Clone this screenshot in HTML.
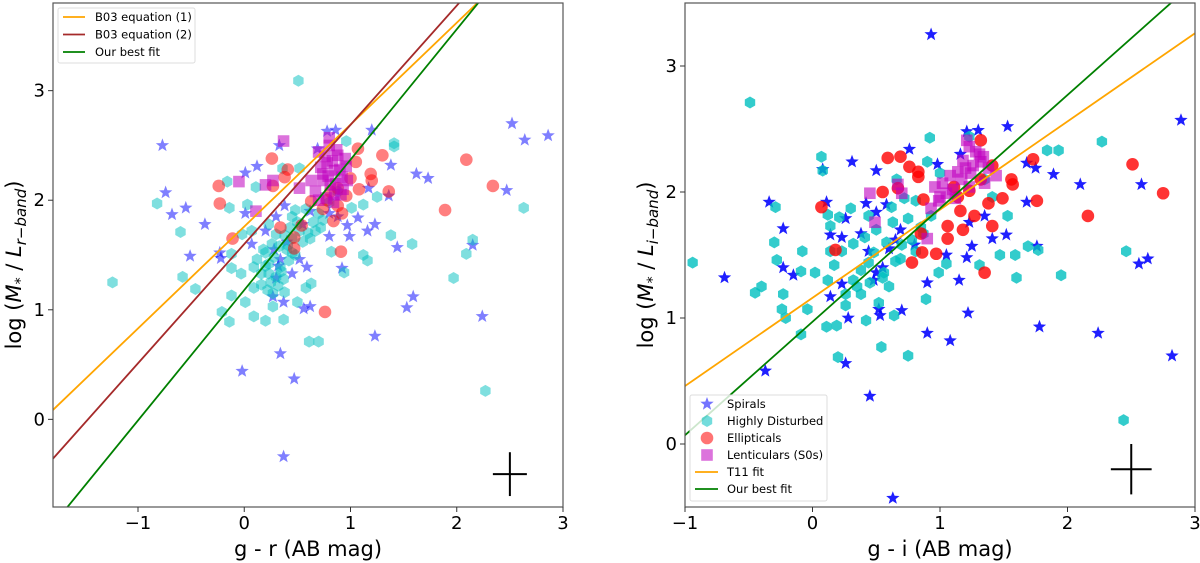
<!DOCTYPE html>
<html><head><meta charset="utf-8">
<style>
html,body{margin:0;padding:0;background:#fff;}
svg{display:block;font-family:"DejaVu Sans","Liberation Sans",sans-serif;}
</style></head>
<body>
<svg id="fig" width="1200" height="563" viewBox="0 0 1200 563" xmlns="http://www.w3.org/2000/svg"></svg>
<script>
// ---------- LEFT PANEL DATA (g - r vs log M/L_r) ----------
const L_spirals_x=[-0.77,-0.74,-0.68,-0.55,-0.37,-0.51,-0.23,-0.22,-0.02,0.34,0.47,0.37,0.33,0.01,0.12,0.78,0.86,0.69,1.20,1.38,1.62,1.73,1.17,1.36,1.07,1.23,1.16,0.97,0.99,0.80,1.44,0.92,0.59,0.52,0.34,0.27,0.37,0.56,0.62,1.59,1.53,1.23,2.24,2.15,2.47,2.52,2.64,2.86,0.01,0.20,0.38,0.07,0.30,0.80,0.88,0.30,0.45,0.32,0.40,0.28,0.55,0.62];
const L_spirals_y=[2.50,2.07,1.87,1.93,1.78,1.49,1.52,1.47,0.44,0.60,0.37,-0.34,2.50,2.25,2.31,2.63,2.64,2.47,2.64,2.32,2.24,2.20,2.11,2.04,1.84,1.78,1.72,1.77,1.67,1.67,1.57,1.38,1.39,1.46,1.46,1.12,1.07,1.01,1.03,1.12,1.02,0.76,0.94,1.59,2.09,2.70,2.55,2.59,1.88,1.72,1.95,1.60,1.85,1.88,1.85,1.29,1.33,1.40,1.62,1.55,1.78,1.90];
const L_dist_x=[0.51,0.96,1.41,1.41,-0.82,-0.60,-0.58,-0.46,-1.24,-0.14,-0.16,0.11,0.03,-0.12,-0.12,-0.03,-0.12,-0.21,-0.14,0.01,0.09,0.20,0.37,0.50,0.38,0.23,0.16,0.09,0.27,0.61,0.70,0.58,0.63,0.82,0.94,1.12,1.16,1.38,1.58,1.97,2.09,2.15,2.27,2.63,1.12,1.01,1.25,0.36,0.52,0.23,0.30,0.45,0.52,0.41,0.48,0.20,0.12,0.23,0.34,0.45,0.67,0.74,0.80,0.88,0.07,-0.02,0.16,0.09,0.25,0.30,0.35,0.40,0.45,0.55,0.60,0.65,0.20,0.28,0.33,0.38,0.43,0.50,0.58,0.70,0.22,0.27,0.32,0.37,0.18,0.26,0.42,0.48,0.62,0.72];
const L_dist_y=[3.09,2.54,2.52,2.49,1.97,1.71,1.30,1.19,1.25,1.93,2.17,2.12,1.96,1.38,1.51,1.33,1.13,0.98,0.89,1.07,0.94,0.90,0.91,1.07,1.16,1.33,1.23,1.20,1.03,0.71,0.71,1.20,1.24,1.53,1.34,1.50,1.45,1.68,1.60,1.29,1.51,1.64,0.26,1.93,1.96,1.93,2.03,2.29,2.29,1.78,1.69,1.85,1.72,1.59,1.91,1.52,1.46,1.42,1.39,1.52,1.72,1.82,1.98,2.08,1.72,1.69,1.33,1.39,1.25,1.30,1.35,1.55,1.65,1.62,1.70,1.80,1.40,1.48,1.58,1.68,1.75,1.80,1.92,1.88,1.18,1.15,1.22,1.28,1.55,1.60,1.45,1.50,1.65,1.75];
const L_ell_x=[-0.24,-0.23,-0.11,0.26,0.41,0.38,0.27,0.34,0.47,0.47,0.54,0.76,0.91,0.84,0.74,1.07,1.05,1.19,1.20,1.08,1.30,1.36,1.89,2.09,2.34,0.88,0.96,0.63,0.88,0.81,0.92,1.00,0.78];
const L_ell_y=[2.13,1.97,1.65,2.38,2.28,2.21,2.13,1.75,1.66,1.56,1.77,0.98,1.53,1.81,1.92,2.47,2.35,2.24,2.18,2.10,2.41,2.08,1.91,2.37,2.13,1.95,2.04,1.99,2.11,2.08,1.88,2.20,2.00];
const L_len_x=[0.37,-0.05,0.11,0.80,0.70,0.78,0.85,0.92,0.74,0.81,0.67,0.96,0.88,0.74,0.63,0.85,0.97,0.27,0.20,0.52,0.76,0.83,0.90,0.72,0.79,0.86,0.93,0.77,0.84,0.91,0.80,0.87,0.70,0.95];
const L_len_y=[2.54,2.17,1.90,2.57,2.44,2.34,2.27,2.21,2.18,2.14,2.08,2.31,2.41,2.24,2.18,2.05,2.18,2.18,2.14,2.11,2.40,2.36,2.28,2.30,2.22,2.15,2.10,2.02,1.98,2.05,2.50,2.46,2.00,2.38];
const L_xticks=[-1,0,1,2,3];
const L_yticks=[0,1,2,3];
const L_fits_slope=[0.93,1.088,1.19];
const L_fits_icpt=[1.76,1.60,1.18];
const L_fit_labels=["B03 equation (1)","B03 equation (2)","Our best fit"];

// ---------- RIGHT PANEL DATA (g - i vs log M/L_i) ----------
const R_spirals_x=[0.93,1.53,2.89,0.76,0.31,0.08,0.50,0.98,-0.34,0.11,-0.23,0.26,0.42,0.50,0.58,0.14,0.23,-0.69,-0.23,-0.15,0.14,0.23,0.28,0.26,-0.37,0.45,0.63,0.52,0.53,0.70,0.90,1.08,1.22,1.15,1.21,1.25,1.52,1.41,1.76,1.68,1.75,1.68,1.89,2.10,2.58,1.78,2.24,2.56,2.63,2.82,1.21,1.30,1.16,0.90,0.50,0.44,0.38,0.69,1.05,1.35,1.23,0.60,0.55,0.48,0.65,0.80];
const R_spirals_y=[3.25,2.52,2.57,2.34,2.24,2.18,2.17,2.22,1.92,1.92,1.71,1.79,1.91,1.84,1.90,1.66,1.64,1.32,1.40,1.34,1.17,1.27,1.00,0.64,0.58,0.38,-0.43,1.07,1.02,1.06,0.88,0.82,1.04,1.30,1.48,1.57,1.66,1.63,1.57,1.92,2.19,2.23,2.14,2.06,2.06,0.93,0.88,1.43,1.47,0.70,2.48,2.49,2.30,1.28,1.36,1.53,1.67,1.70,1.50,1.81,1.76,1.55,1.40,1.30,1.62,1.58];
const R_dist_x=[-0.49,-0.94,-0.29,-0.30,-0.28,-0.23,-0.24,-0.21,-0.45,-0.40,-0.08,-0.09,-0.09,-0.04,0.07,0.08,0.12,0.21,0.30,0.14,0.14,0.17,0.12,0.11,0.19,0.20,0.42,0.54,0.75,0.64,0.89,0.92,0.90,1.00,2.27,1.84,1.93,1.53,1.47,1.59,1.69,1.77,1.60,1.95,2.46,2.44,1.31,1.05,0.99,0.32,0.41,0.50,0.63,0.75,0.44,0.56,0.32,0.26,0.38,0.60,0.69,0.81,0.87,0.93,0.66,1.23,1.35,1.41,0.81,0.44,0.23,0.26,0.02,0.35,0.45,0.55,0.65,0.70,0.78,0.85,0.38,0.48,0.58,0.62,0.72,0.52];
const R_dist_y=[2.71,1.44,1.88,1.60,1.46,1.19,1.07,1.00,1.20,1.25,1.53,1.37,0.87,1.07,2.28,2.17,1.82,1.80,1.87,1.73,1.53,1.42,1.30,0.93,0.94,0.69,0.98,0.77,0.70,1.02,1.15,2.43,2.24,2.15,2.40,2.33,2.33,1.81,1.50,1.50,1.57,1.54,1.32,1.34,1.53,0.19,1.42,1.43,1.36,1.59,1.64,1.70,1.76,1.79,1.44,1.36,1.30,1.19,1.19,1.25,1.47,1.53,1.67,1.81,2.10,2.44,2.10,1.96,1.93,1.81,1.53,1.10,1.36,1.25,1.28,1.32,1.45,1.58,1.62,1.72,1.38,1.52,1.60,1.88,1.95,1.12];
const R_ell_x=[0.07,0.18,0.59,0.69,0.76,0.83,0.83,0.55,0.67,0.87,0.85,0.86,0.97,0.78,1.06,1.06,1.18,1.32,1.49,1.38,1.41,1.27,1.35,1.56,1.57,1.73,1.76,2.16,2.51,2.75,1.14,1.23,1.32,1.41,1.16,1.11];
const R_ell_y=[1.88,1.54,2.27,2.28,2.20,2.16,2.12,2.00,2.03,1.94,1.67,1.52,1.51,1.44,1.63,1.73,1.70,2.41,1.95,1.91,1.73,1.81,1.36,2.10,2.06,2.26,1.93,1.81,2.22,1.99,1.96,2.01,2.10,2.21,1.85,2.04];
const R_len_x=[0.45,0.49,0.67,0.70,0.90,1.21,1.23,1.31,0.96,1.02,1.08,1.14,1.20,1.26,1.32,1.38,1.44,0.99,1.05,1.17,1.23,1.35,0.93,1.10,1.18,1.28,1.34,1.24,1.12,1.00];
const R_len_y=[1.99,1.76,2.06,1.99,1.63,2.41,2.36,2.30,2.04,2.07,2.13,2.16,2.19,2.21,2.24,2.19,2.13,1.93,1.99,2.10,2.04,2.07,1.87,2.02,2.25,2.32,2.28,2.15,1.95,1.96];
const R_xticks=[-1,0,1,2,3];
const R_yticks=[0,1,2,3];
const R_fits_slope=[0.70,0.90];
const R_fits_icpt=[1.16,0.97];

const NS="http://www.w3.org/2000/svg";
const svg=document.getElementById('fig');
function mk(tag,attrs,parent){const e=document.createElementNS(NS,tag);for(const k in attrs)e.setAttribute(k,attrs[k]);(parent||svg).appendChild(e);return e;}

function makeAxes(px0,px1,py0,py1,xmin,xmax,ymin,ymax){
  return {X:v=>px0+(v-xmin)/(xmax-xmin)*(px1-px0), Y:v=>py1-(v-ymin)/(ymax-ymin)*(py1-py0), px0,px1,py0,py1,xmin,xmax,ymin,ymax};
}
function starPts(cx,cy,r){let p=[];for(let i=0;i<10;i++){const a=-Math.PI/2+i*Math.PI/5;const rr=i%2?r*0.42:r;p.push((cx+rr*Math.cos(a)).toFixed(1)+','+(cy+rr*Math.sin(a)).toFixed(1));}return p.join(' ');}
function hexPts(cx,cy,r){let p=[];for(let i=0;i<6;i++){const a=-Math.PI/2+i*Math.PI/3;p.push((cx+r*Math.cos(a)).toFixed(1)+','+(cy+r*Math.sin(a)).toFixed(1));}return p.join(' ');}

function drawMarker(g,kind,cx,cy,fill,op){
  let e;
  if(kind==='star') e=mk('polygon',{points:starPts(cx,cy,7),fill:fill,'fill-opacity':op},g);
  else if(kind==='hex') e=mk('polygon',{points:hexPts(cx,cy,6),fill:fill,'fill-opacity':op},g);
  else if(kind==='circle') e=mk('circle',{cx:cx,cy:cy,r:6.3,fill:fill,'fill-opacity':op},g);
  else e=mk('rect',{x:cx-5.8,y:cy-5.8,width:11.6,height:11.6,fill:fill,'fill-opacity':op},g);
  return e;
}

function drawPanel(id,ax,series,fitsS,fitsI,fitColors,xticks,yticks,cross,xlabel,ysub){
  const g=mk('g',{});
  
  
  const clipId=id+'-clip';
  const cp=mk('clipPath',{id:clipId},g);
  mk('rect',{x:ax.px0,y:ax.py0,width:ax.px1-ax.px0,height:ax.py1-ax.py0},cp);
  const plot=mk('g',{'clip-path':'url(#'+clipId+')'},g);
  series.forEach(s=>{
    const sg=mk('g',{},plot);
    
    
    for(let i=0;i<s.x.length;i++){
      const m=drawMarker(sg,s.kind,ax.X(s.x[i]),ax.Y(s.y[i]),s.fill,s.op);
      
      
    }
  });
  for(let k=0;k<fitsS.length;k++){
    const l=mk('line',{x1:ax.X(ax.xmin),y1:ax.Y(fitsS[k]*ax.xmin+fitsI[k]),x2:ax.X(ax.xmax),y2:ax.Y(fitsS[k]*ax.xmax+fitsI[k]),stroke:fitColors[k],'stroke-width':1.8},plot);
    
    
  }
  const cg=mk('g',{},g);
  
  
  mk('line',{x1:ax.X(cross[0]-cross[2]),x2:ax.X(cross[0]+cross[2]),y1:ax.Y(cross[1]),y2:ax.Y(cross[1]),stroke:'#000','stroke-width':2},cg);
  mk('line',{x1:ax.X(cross[0]),x2:ax.X(cross[0]),y1:ax.Y(cross[1]-cross[3]),y2:ax.Y(cross[1]+cross[3]),stroke:'#000','stroke-width':2},cg);
  const fr=mk('rect',{x:ax.px0,y:ax.py0,width:ax.px1-ax.px0,height:ax.py1-ax.py0,fill:'none',stroke:'#555','stroke-width':1.2},g);
  
  
  xticks.forEach(t=>{
    const x=ax.X(t);
    mk('line',{x1:x,x2:x,y1:ax.py1,y2:ax.py1+5,stroke:'#333','stroke-width':1},g);
    const tx=mk('text',{x:x,y:ax.py1+22,'font-size':18,'text-anchor':'middle',fill:'#000'},g);
    tx.textContent=t<0?'\u2212'+Math.abs(t):String(t);
    
    
  });
  yticks.forEach(t=>{
    const y=ax.Y(t);
    mk('line',{x1:ax.px0-5,x2:ax.px0,y1:y,y2:y,stroke:'#333','stroke-width':1},g);
    const tx=mk('text',{x:ax.px0-8,y:y+6,'font-size':18,'text-anchor':'end',fill:'#000'},g);
    tx.textContent=String(t);
    
    
  });
  const xl=mk('text',{x:(ax.px0+ax.px1)/2,y:556,'font-size':21,'text-anchor':'middle',fill:'#000'},g);
  xl.textContent=xlabel;
  
  
  const cy=(ax.py0+ax.py1)/2+10, lx=ax.px0-32;
  const yl=mk('text',{x:lx,y:cy,'font-size':21,'text-anchor':'middle',fill:'#000',transform:'rotate(-90 '+lx+' '+cy+')'},g);
  
  
  yl.innerHTML='log (<tspan font-style="italic">M</tspan><tspan font-size="14" dy="4">*</tspan><tspan dy="-4"> / </tspan><tspan font-style="italic">L</tspan><tspan font-size="15" dy="5" font-style="italic">'+ysub+'</tspan><tspan dy="-5">)</tspan>';
  return g;
}

const axL=makeAxes(53,563,3,507,-1.8,3.0,-0.8,3.8);
drawPanel('left',axL,[
 {name:'spirals',kind:'star',x:L_spirals_x,y:L_spirals_y,fill:'#0000ff',op:0.5},
 {name:'highly-disturbed',kind:'hex',x:L_dist_x,y:L_dist_y,fill:'#00bfbf',op:0.5},
 {name:'ellipticals',kind:'circle',x:L_ell_x,y:L_ell_y,fill:'#ff0000',op:0.5},
 {name:'lenticulars',kind:'square',x:L_len_x,y:L_len_y,fill:'#bf00bf',op:0.55}
],L_fits_slope,L_fits_icpt,['#ffa500','#a52a2a','#008000'],L_xticks,L_yticks,[2.5,-0.5,0.16,0.2],'g - r (AB mag)','r\u2212band');

const axR=makeAxes(685,1195,3,507,-1,3,-0.5,3.5);
drawPanel('right',axR,[
 {name:'spirals',kind:'star',x:R_spirals_x,y:R_spirals_y,fill:'#0000ff',op:0.88},
 {name:'highly-disturbed',kind:'hex',x:R_dist_x,y:R_dist_y,fill:'#00bfbf',op:0.8},
 {name:'ellipticals',kind:'circle',x:R_ell_x,y:R_ell_y,fill:'#ff0000',op:0.8},
 {name:'lenticulars',kind:'square',x:R_len_x,y:R_len_y,fill:'#bf00bf',op:0.6}
],R_fits_slope,R_fits_icpt,['#ffa500','#008000'],R_xticks,R_yticks,[2.5,-0.2,0.16,0.2],'g - i (AB mag)','i\u2212band');

(function(){
  const g=mk('g',{});
  
  
  mk('rect',{x:58,y:8,width:137,height:55,rx:2,fill:'#fff','fill-opacity':0.85,stroke:'#ddd'},g);
  const cols=['#ffa500','#a52a2a','#008000'];
  for(let i=0;i<3;i++){
    const y=17+i*17.5;
    mk('line',{x1:63,x2:85,y1:y,y2:y,stroke:cols[i],'stroke-width':1.8},g);
    const t=mk('text',{x:95,y:y+4,'font-size':11.5,fill:'#000'},g);
    t.textContent=L_fit_labels[i];
    
    
  }
})();

(function(){
  const g=mk('g',{});
  
  
  mk('rect',{x:690,y:395,width:137,height:106,rx:2,fill:'#fff','fill-opacity':0.8,stroke:'#ddd'},g);
  const labels=['Spirals','Highly Disturbed','Ellipticals','Lenticulars (S0s)','T11 fit','Our best fit'];
  const kinds=['star','hex','circle','square','line','line'];
  const fills=['#0000ff','#00bfbf','#ff0000','#bf00bf','#ffa500','#008000'];
  for(let i=0;i<6;i++){
    const y=404+i*17;
    if(kinds[i]==='line') mk('line',{x1:695,x2:718,y1:y,y2:y,stroke:fills[i],'stroke-width':1.8},g);
    else drawMarker(g,kinds[i],707,y,fills[i],0.55);
    const t=mk('text',{x:727,y:y+4,'font-size':11.5,fill:'#000'},g);
    t.textContent=labels[i];
    
    
  }
})();
</script>
</body></html>
